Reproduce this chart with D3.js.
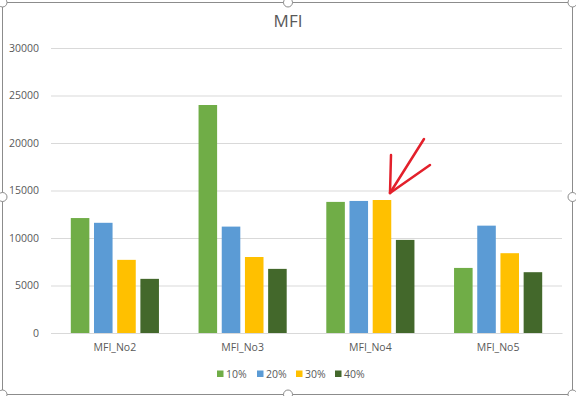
<!DOCTYPE html>
<html>
<head>
<meta charset="utf-8">
<script src="https://cdn.jsdelivr.net/npm/d3@7"></script>
<style>
  body { margin: 0; background: #fff; }
  text { font-family: 'Open Sans', sans-serif; fill: #595959; }
</style>
</head>
<body>
<svg width="576" height="396"></svg>
<script>
const categories = ['MFI_No2', 'MFI_No3', 'MFI_No4', 'MFI_No5'];
const seriesNames = ['10%', '20%', '30%', '40%'];
const values10 = [12100, 24000, 13800, 6850];
const values20 = [11600, 11200, 13900, 11300];
const values30 = [7700, 8000, 14000, 8400];
const values40 = [5700, 6750, 9800, 6400];
const yTicks = [0, 5000, 10000, 15000, 20000, 25000, 30000];
const colors = ['#70AD47', '#5B9BD5', '#FFC000', '#43682B'];

const seriesValues = [values10, values20, values30, values40];

const svg = d3.select('svg');
const svgWidth = +svg.attr('width');
const margin = { top: 48, bottom: 63, left: 51, right: 14 };
const innerWidth = svgWidth - margin.left - margin.right;
const innerHeight = +svg.attr('height') - margin.top - margin.bottom;

// chart frame (excel selection border + handles)
const frame = svg.append('g').attr('class', 'frame');
frame.append('rect')
  .attr('x', 2.5).attr('y', 2.5)
  .attr('width', 570).attr('height', 392)
  .attr('fill', 'none')
  .attr('stroke', '#8c8c8c');
[[2.5, 2.5], [288, 2.5], [572.5, 2.5], [2.5, 197], [572.5, 197], [2.5, 394.5], [288, 394.5], [572.5, 394.5]]
  .forEach(([cx, cy]) => {
    frame.append('circle')
      .attr('cx', cx).attr('cy', cy).attr('r', 4.5)
      .attr('fill', '#fff')
      .attr('stroke', '#8c8c8c');
  });

svg.append('text')
  .attr('x', svgWidth / 2)
  .attr('y', 27)
  .attr('text-anchor', 'middle')
  .style('font-size', '17px')
  .text('MFI');

const visGroup = svg.append('g')
  .attr('transform', `translate(${margin.left}, ${margin.top})`);

const yScale = d3.scaleLinear()
  .domain([0, 30000])
  .range([innerHeight, 0]);

const x0 = d3.scaleBand()
  .domain(categories)
  .range([0, innerWidth])
  .paddingInner(0.31)
  .paddingOuter(0.155);

const x1 = d3.scaleBand()
  .domain(seriesNames)
  .range([0, x0.bandwidth()])
  .paddingInner(0.2);

// grid + y labels
const yAxis = d3.axisLeft(yScale)
  .tickValues(yTicks)
  .tickFormat(d3.format('d'))
  .tickSize(-innerWidth)
  .tickPadding(12);
const yAxisGroup = visGroup.append('g').call(yAxis);
yAxisGroup.select('.domain').remove();
yAxisGroup.selectAll('.tick line').attr('stroke', '#d9d9d9');
yAxisGroup.selectAll('.tick text')
  .style('font-size', '10.5px')
  .attr('fill', '#595959')
  .style('font-family', "'Open Sans', sans-serif");

// x labels
const xAxis = d3.axisBottom(x0).tickSize(0).tickPadding(11);
const xAxisGroup = visGroup.append('g')
  .attr('transform', `translate(0, ${innerHeight})`)
  .call(xAxis);
xAxisGroup.select('.domain').attr('stroke', '#d9d9d9');
xAxisGroup.selectAll('.tick text')
  .style('font-size', '10.5px')
  .attr('fill', '#595959')
  .style('font-family', "'Open Sans', sans-serif");

// bars
const rows = categories.map((c, i) => ({
  category: c,
  items: seriesNames.map((s, j) => ({ series: s, value: seriesValues[j][i], color: colors[j] }))
}));

visGroup.append('g')
  .selectAll('g')
  .data(rows)
  .enter()
  .append('g')
    .attr('transform', d => `translate(${x0(d.category)}, 0)`)
  .selectAll('rect')
  .data(d => d.items)
  .enter()
  .append('rect')
    .attr('x', d => x1(d.series))
    .attr('y', d => yScale(d.value))
    .attr('width', x1.bandwidth())
    .attr('height', d => innerHeight - yScale(d.value))
    .attr('fill', d => d.color);

// legend
const legendX = [217, 257, 296, 335];
const legend = svg.append('g')
  .selectAll('g')
  .data(seriesNames)
  .enter()
  .append('g')
    .attr('transform', (d, i) => `translate(${legendX[i]}, 374)`);
legend.append('rect')
  .attr('x', 0).attr('y', -3.5)
  .attr('width', 6.5).attr('height', 6.5)
  .attr('fill', (d, i) => colors[i]);
legend.append('text')
  .attr('x', 9)
  .attr('y', 3.8)
  .style('font-size', '10.5px')
  .text(d => d);

// red arrow annotation
const arrow = svg.append('g')
  .attr('stroke', '#E3202B')
  .attr('stroke-width', 2.5)
  .attr('stroke-linecap', 'round')
  .attr('fill', 'none');
const tip = [390, 193];
[[424, 139], [391, 155], [430, 165]].forEach(([x, y]) => {
  arrow.append('line')
    .attr('x1', x).attr('y1', y)
    .attr('x2', tip[0]).attr('y2', tip[1]);
});
</script>
</body>
</html>
